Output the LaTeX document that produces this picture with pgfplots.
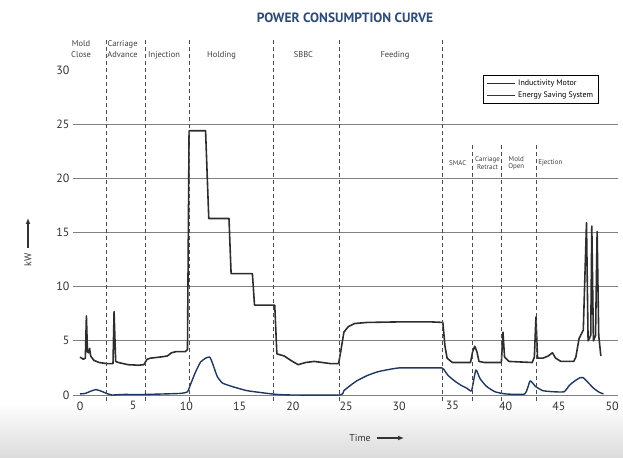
\documentclass[border=0pt]{standalone}
\usepackage{pgfplots}
\pgfplotsset{compat=1.18}
\usepackage{fontspec}
\setmainfont{PT Sans}
\usetikzlibrary{arrows.meta}
\definecolor{titleblue}{RGB}{45,75,115}
\definecolor{esblue}{RGB}{30,55,95}
\definecolor{motor}{RGB}{45,45,45}
\begin{document}
\begin{tikzpicture}
\shade[top color=white,bottom color=black!14] (-73bp,-63bp) rectangle (550bp,-8bp);
\begin{axis}[
  at={(0,0)}, anchor=south west,
  x=10.64bp, y=10.83bp,
  xmin=-0.66, xmax=50.56, ymin=0, ymax=30,
  clip=false,
  axis line style={draw=none},
  major tick length=0pt,
  xtick={0,5,...,50},
  ytick={0,5,...,25},
  extra y ticks={30},
  extra y tick style={grid=none},
  ymajorgrids,
  grid style={black!50, line width=0.9pt},
  /pgf/number format/assume math mode=true,
  tick label style={font=\fontsize{12}{13}\selectfont, text=black!80},
  xticklabel style={yshift=-3bp},
  legend style={at={(axis cs:37.9,29.55)}, anchor=north west, draw=black, line width=0.9pt,
    fill=white, font=\fontsize{8}{9}\selectfont, inner xsep=3pt, inner ysep=2.5pt, row sep=1pt, cells={anchor=west}},
  legend image code/.code={\draw[#1, line width=1.5pt] (0bp,0bp) -- (28bp,0bp);},
]
\addplot[motor, line width=1.6pt, line join=round] coordinates {
(0,3.5)(0.3,3.3)(0.5,3.4)(0.6,7.3)(0.7,4.0)(0.8,3.9)(0.9,4.3)(1.0,3.6)(1.3,3.2)(1.8,3.0)(2.5,2.9)
(3.1,2.9)(3.2,7.7)(3.35,3.1)(3.6,3.0)(4.5,2.8)(5.5,2.75)(6.0,2.8)(6.3,3.3)(6.6,3.4)(7.5,3.5)(8.2,3.6)
(8.6,3.9)(9.0,4.0)(9.9,4.0)(10.1,4.2)(10.25,24.4)(11.8,24.4)(12.1,16.3)(14.0,16.3)(14.2,11.2)
(16.2,11.2)(16.4,8.3)(18.3,8.3)(18.5,3.8)(19.2,3.6)(19.8,3.2)(20.5,2.8)(21.2,3.0)(22.0,3.1)
(22.8,3.0)(23.5,2.9)(24.3,2.9)(24.5,4.0)(24.8,5.8)(25.2,6.3)(25.8,6.6)(27,6.7)(30,6.75)(33,6.75)
(34.1,6.7)(34.3,4.5)(34.5,3.4)(35,3.0)(36.7,3.0)(36.9,4.0)(37.1,4.5)(37.3,4.0)(37.5,3.1)(38,3.0)
(39.6,3.0)(39.75,5.8)(39.9,3.5)(40.3,3.1)(42.5,3.0)(42.7,3.5)(42.85,7.2)(43.0,3.4)(43.5,3.4)
(44.0,3.6)(44.4,3.9)(44.7,3.4)(45.2,3.1)(46.4,3.1)(46.6,3.5)(46.9,5.2)(47.3,6.0)(47.6,15.9)
(47.75,5.0)(48.0,5.5)(48.1,15.6)(48.25,5.0)(48.45,5.5)(48.6,15.1)(48.75,5.5)(48.95,3.6)
};
\addlegendentry{Inductivity Motor}
\addplot[esblue, line width=1.4pt, line join=round, smooth, tension=0.3] coordinates {
(0,0.1)(0.5,0.15)(1.0,0.35)(1.5,0.5)(2.0,0.35)(2.5,0.15)(3.0,0.0)(4,0.05)(6,0.05)(8,0.1)(9.5,0.15)
(10.1,0.3)(10.4,1.0)(10.8,2.0)(11.3,3.0)(11.8,3.4)(12.2,3.5)(12.5,2.8)(12.9,1.7)(13.4,1.1)
(14.4,0.75)(15.7,0.4)(17.2,0.2)(18.5,0.05)(20,0)(24.4,0)(24.8,0.4)(25.3,0.8)(26,1.3)(27,1.8)
(28,2.15)(29,2.35)(30,2.5)(32,2.5)(34,2.5)(34.3,2.2)(34.6,1.8)(35.2,1.3)(35.8,0.9)(36.4,0.6)
(36.8,0.4)(37.2,2.3)(37.6,1.5)(38.2,0.8)(39,0.3)(40,0.1)(41.8,0.1)(42.3,1.3)(42.8,0.8)(43.5,0.4)
(44.5,0.3)(45.5,0.3)(46.0,0.9)(46.5,1.3)(47.0,1.6)(47.3,1.6)(47.8,1.1)(48.3,0.6)(48.8,0.25)(49.2,0.1)
};
\addlegendentry{Energy Saving System}
% phase separators
\pgfplotsinvokeforeach{2.5,6.15,10.3,18.2,24.4,34.1}{
  \addplot[forget plot, black!70, line width=1pt, dash pattern=on 4bp off 3bp] coordinates {(#1,-0.6)(#1,33)};
}
\pgfplotsinvokeforeach{36.9,39.6,42.9}{
  \addplot[forget plot, black!70, line width=1pt, dash pattern=on 4bp off 3bp] coordinates {(#1,-0.6)(#1,23.1)};
}
% phase labels
\begin{scope}[every node/.style={font=\fontsize{8.5}{10.5}\selectfont, text=black!75, align=center, inner sep=0pt}]
\node at (axis cs:0.1,31.95) {Mold\\Close};
\node at (axis cs:4.0,31.95) {Carriage\\Advance};
\node at (axis cs:7.9,31.4) {Injection};
\node at (axis cs:13.3,31.4) {Holding};
\node at (axis cs:21.0,31.4) {SBBC};
\node at (axis cs:29.6,31.4) {Feeding};
\end{scope}
\begin{scope}[every node/.style={font=\fontsize{7}{7.5}\selectfont, text=black!75, align=center, inner sep=0pt}]
\node at (axis cs:35.5,21.4) {SMAC};
\node at (axis cs:38.3,21.4) {Carriage\\Retract};
\node at (axis cs:41.0,21.4) {Mold\\Open};
\node at (axis cs:44.2,21.4) {Ejection};
\end{scope}
\end{axis}
\node[font=\bfseries\fontsize{13.5}{15}\selectfont, text=titleblue] at (272bp,377bp) {POWER CONSUMPTION CURVE};
\node[rotate=90, font=\fontsize{10}{11}\selectfont, text=black!80] at (-45bp,135bp) {kW};
\draw[-{Latex[length=6bp,width=5bp]}, line width=1.5pt, black!80] (-45bp,147bp) -- (-45bp,177bp);
\node[font=\fontsize{10}{11}\selectfont, text=black!80] at (287bp,-43bp) {Time};
\draw[-{Latex[length=6bp,width=5bp]}, line width=1.5pt, black!80] (304bp,-43bp) -- (331bp,-43bp);
\pgfresetboundingbox
\path (-73bp,-63bp) rectangle (550bp,395bp);
\end{tikzpicture}
\end{document}
